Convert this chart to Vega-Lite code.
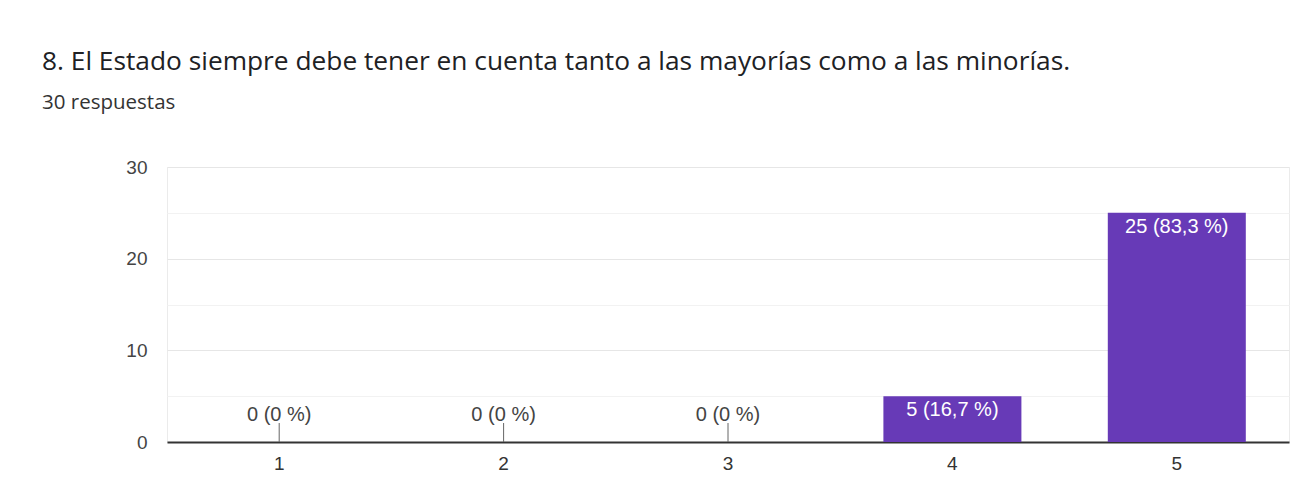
{
  "$schema": "https://vega.github.io/schema/vega-lite/v6.json",
  "width": 1122,
  "height": 275,
  "autosize": {"type": "none"},
  "padding": {"left": 167, "top": 167, "right": 8, "bottom": 49},
  "background": "white",
  "config": {
    "view": {"stroke": "#ebebeb", "strokeWidth": 1},
    "font": "Liberation Sans"
  },
  "title": {
    "text": "8. El Estado siempre debe tener en cuenta tanto a las mayorías como a las minorías.",
    "subtitle": "30 respuestas",
    "anchor": "start",
    "frame": "group",
    "dx": -125,
    "offset": 45,
    "font": "Open Sans",
    "fontSize": 26.3,
    "fontWeight": "normal",
    "color": "#202124",
    "subtitleFont": "Open Sans",
    "subtitleFontSize": 20.5,
    "subtitleColor": "#333333",
    "subtitlePadding": 17
  },
  "data": {
    "values": [
      {"opcion": "1", "respuestas": 0, "etiqueta": "0 (0 %)"},
      {"opcion": "2", "respuestas": 0, "etiqueta": "0 (0 %)"},
      {"opcion": "3", "respuestas": 0, "etiqueta": "0 (0 %)"},
      {"opcion": "4", "respuestas": 5, "etiqueta": "5 (16,7 %)"},
      {"opcion": "5", "respuestas": 25, "etiqueta": "25 (83,3 %)"}
    ]
  },
  "encoding": {
    "x": {
      "field": "opcion",
      "type": "ordinal",
      "sort": null,
      "scale": {"paddingInner": 0.385, "paddingOuter": 0.1925},
      "axis": {
        "title": null,
        "labelAngle": 0,
        "ticks": false,
        "domain": true,
        "domainColor": "#333333",
        "domainWidth": 2,
        "labelPadding": 12,
        "labelFontSize": 19,
        "labelColor": "#333333",
        "labelFont": "Liberation Sans"
      }
    },
    "y": {
      "field": "respuestas",
      "type": "quantitative",
      "scale": {"domain": [0, 30], "nice": false},
      "axis": {
        "title": null,
        "values": [0, 5, 10, 15, 20, 25, 30],
        "labelExpr": "datum.value % 10 == 0 ? datum.label : ''",
        "ticks": false,
        "domain": false,
        "labelPadding": 20,
        "labelFontSize": 19,
        "labelColor": "#444444",
        "labelFont": "Liberation Sans",
        "gridColor": {
          "condition": {"test": "datum.value % 10 == 0", "value": "#e6e6e6"},
          "value": "#f2f2f2"
        }
      }
    }
  },
  "layer": [
    {"mark": {"type": "bar", "color": "#673ab7"}},
    {
      "transform": [{"filter": "datum.respuestas == 0"}],
      "mark": {"type": "rule", "color": "#666666", "strokeWidth": 1, "y2Offset": -19},
      "encoding": {"y2": {"field": "respuestas"}}
    },
    {
      "transform": [{"filter": "datum.respuestas == 0"}],
      "mark": {"type": "text", "baseline": "alphabetic", "dy": -21, "fontSize": 20, "color": "#444444", "font": "Liberation Sans"},
      "encoding": {"text": {"field": "etiqueta"}}
    },
    {
      "transform": [{"filter": "datum.respuestas > 0"}],
      "mark": {"type": "text", "baseline": "top", "dy": 4, "fontSize": 20, "color": "white", "font": "Liberation Sans"},
      "encoding": {"text": {"field": "etiqueta"}}
    }
  ]
}
